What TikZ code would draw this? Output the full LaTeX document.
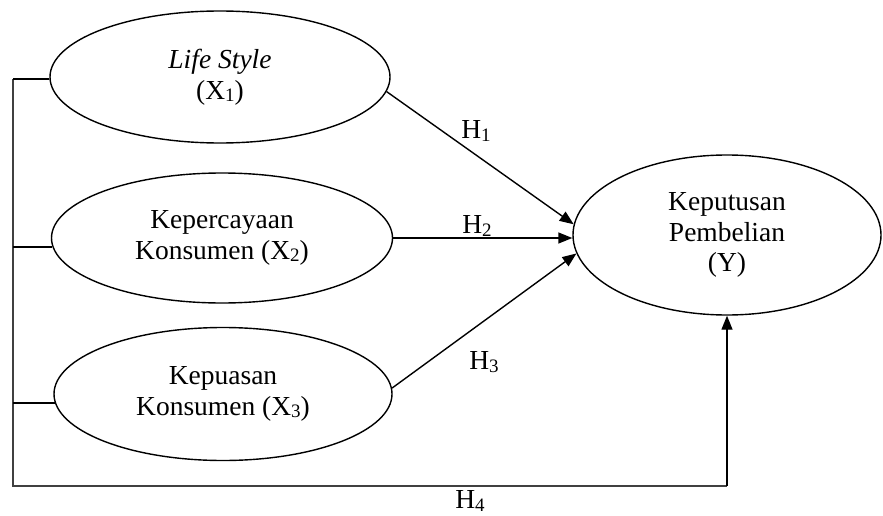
\documentclass[tikz,border=0pt]{standalone}
\usepackage{fontspec}
\setmainfont{Liberation Serif}
\usetikzlibrary{shapes.geometric,arrows.meta}
\newcommand\mysb[1]{\raisebox{-2.5pt}{\fontsize{19}{19}\selectfont #1}}
\begin{document}
\begin{tikzpicture}[x=1pt,y=-1pt,
  lat/.style={ellipse,draw,line width=1.4pt,inner sep=0pt,align=center,font=\fontsize{27.5}{30.5}\selectfont},
  con/.style={line width=1.4pt},
  frame/.style={line width=1.1pt,draw=black!75},
  arr/.style={con,-{Triangle[length=14pt,width=11pt]}},
  lbl/.style={font=\fontsize{27.5}{30}\selectfont,inner sep=0pt}]
\useasboundingbox (0,0) rectangle (883,516);
\node[lat,minimum width=340,minimum height=132] (X1) at (220,77) {\textit{Life Style}\\(X\mysb{1})};
\node[lat,minimum width=341,minimum height=130] (X2) at (222,238) {Kepercayaan\\Konsumen (X\mysb{2})};
\node[lat,minimum width=338,minimum height=133] (X3) at (223,394) {Kepuasan\\Konsumen (X\mysb{3})};
\node[lat,minimum width=308,minimum height=160] (Y) at (727,235) {Keputusan\\Pembelian\\(Y)};
\coordinate (L) at (13,486);
\coordinate (T) at (13,79);
\draw[frame] (T) -- (L) -- (L -| Y.south);
\draw[con] (X1.west |- T) -- (T);
\draw[con] (X2.183) -- (X2.183 -| L);
\draw[con] (X3.183) -- (X3.183 -| L);
\draw[arr] (L -| Y.south) -- (Y.south);
\draw[arr] (X1.-5) -- (Y.176);
\draw[arr] (X2.east) -- (X2.east -| Y.west);
\draw[arr] (X3.2) -- (Y.187);
\node[lbl] (h1) at (476,131) {H\mysb{1}};
\node[lbl] (h2) at (477,226) {H\mysb{2}};
\node[lbl] (h3) at (484,362) {H\mysb{3}};
\node[lbl] (h4) at (470,501) {H\mysb{4}};
\end{tikzpicture}
\end{document}
